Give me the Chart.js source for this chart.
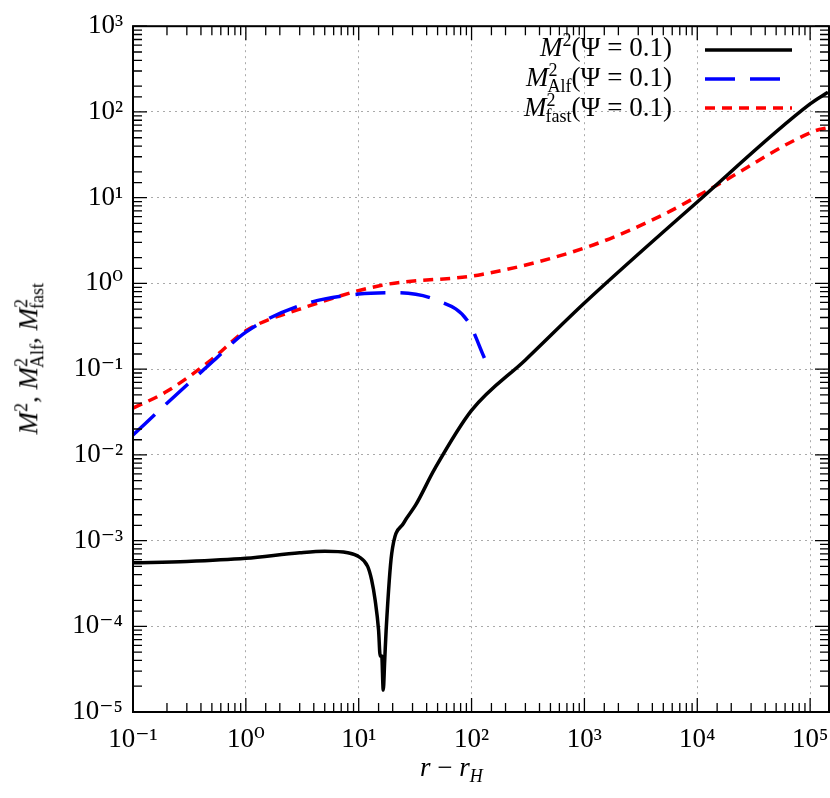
<!DOCTYPE html>
<html><head><meta charset="utf-8">
<script src="https://cdn.jsdelivr.net/npm/chart.js@4"></script>
<style>
body{margin:0;background:#fff;}
#wrap{position:relative;width:830px;height:798px;}
.t{position:absolute;font-family:"Liberation Serif","DejaVu Serif",serif;font-size:27px;color:#000;white-space:nowrap;}
i{font-style:italic;}
sub,sup{font-size:18px;}
</style></head><body>
<div id="wrap"><canvas id="c" width="830" height="798"></canvas>
<div class="t" style="right:158px;top:30px;"><i>M</i><sup>2</sup>(Ψ = 0.1)</div>
<div class="t" style="right:158px;top:60px;"><i>M</i><sup>2</sup><sub style="margin-left:-10px">Alf</sub>(Ψ = 0.1)</div>
<div class="t" style="right:158px;top:90px;"><i>M</i><sup>2</sup><sub style="margin-left:-10px">fast</sub>(Ψ = 0.1)</div>
<div class="t" style="left:420px;top:752px;"><i>r</i> − <i>r<sub>H</sub></i></div>
<div class="t" style="left:-120px;top:340px;transform:rotate(-90deg);width:300px;text-align:center;"><i>M</i><sup>2</sup>, <i>M</i><sup>2</sup><sub style="margin-left:-10px">Alf</sub>, <i>M</i><sup>2</sup><sub style="margin-left:-10px">fast</sub></div>
</div>
<script>
const m2X=[0.1,0.3,1,3,5,8,10,12,13,14,15,15.5,16,16.5,17,17.5,19.6,25,32,47,100,300,1000,10000,100000,144000];
const m2Y=[5.5e-4,5.7e-4,6.2e-4,7.2e-4,7.5e-4,7.2e-4,6.5e-4,5e-4,3.5e-4,2e-4,9e-5,4.5e-5,4.5e-5,1.8e-5,4e-5,9e-5,7e-4,1.6e-3,2.6e-3,6.8e-3,0.033,0.128,0.59,8.9,124,170];
const alfX=[0.1,0.2,0.5,1,3,10,22,50,93,130];
const alfY=[0.017,0.04,0.12,0.27,0.55,0.75,0.78,0.63,0.36,0.135];
const fastX=[0.1,0.2,0.5,1,3,16,123,1100,5200,14500,110000,147000];
const fastY=[0.035,0.055,0.13,0.28,0.5,0.95,1.27,2.7,6.5,13.7,60,66];
const pts=(xs,ys)=>xs.map((x,i)=>({x,y:ys[i]}));
const sup={'-':'⁻','0':'⁰','1':'¹','2':'²','3':'³','4':'⁴','5':'⁵'};
const isMaj=v=>Math.abs(Math.log10(v)-Math.round(Math.log10(v)))<1e-6;
const lab=v=>isMaj(v)?'10'+String(Math.round(Math.log10(v))).split('').map(c=>sup[c]).join(''):'';
const font={family:'"Liberation Serif","DejaVu Serif",serif',size:27};
const tickPlugin={id:'tk',afterDraw(ch){const c=ch.ctx,a=ch.chartArea;c.save();c.strokeStyle='#000';c.lineWidth=1.3;
 ch.scales.x.ticks.forEach(t=>{const p=ch.scales.x.getPixelForValue(t.value);if(p<a.left-1||p>a.right+1)return;const L=isMaj(t.value)?14:9;c.beginPath();c.moveTo(p,a.bottom);c.lineTo(p,a.bottom-L);c.moveTo(p,a.top);c.lineTo(p,a.top+L);c.stroke();});
 ch.scales.y.ticks.forEach(t=>{const p=ch.scales.y.getPixelForValue(t.value);const L=isMaj(t.value)?14:9;c.beginPath();c.moveTo(a.left,p);c.lineTo(a.left+L,p);c.moveTo(a.right,p);c.lineTo(a.right-L,p);c.stroke();});
 c.lineWidth=2;c.strokeRect(a.left,a.top,a.right-a.left,a.bottom-a.top);
 const ls=[[[],'#000'],[[30,15],'#0000ff'],[[10,7],'#ff0000']];
 ls.forEach((s,i)=>{c.setLineDash(s[0]);c.strokeStyle=s[1];c.lineWidth=3.5;c.beginPath();c.moveTo(705,50+i*29);c.lineTo(792,50+i*29);c.stroke();});
 c.restore();}};
new Chart(document.getElementById('c'),{type:'line',
data:{datasets:[
{data:pts(m2X,m2Y),borderColor:'#000',borderWidth:3.5,pointRadius:0,cubicInterpolationMode:'monotone'},
{data:pts(alfX,alfY),borderColor:'#0000ff',borderWidth:3.5,borderDash:[30,15],pointRadius:0,cubicInterpolationMode:'monotone'},
{data:pts(fastX,fastY),borderColor:'#ff0000',borderWidth:3.5,borderDash:[10,7],pointRadius:0,cubicInterpolationMode:'monotone'}]},
options:{responsive:false,animation:false,clip:false,
layout:{padding:{top:21,right:1,left:0,bottom:0}},
plugins:{legend:{display:false},tooltip:{enabled:false}},
scales:{
x:{type:'logarithmic',min:0.1,max:147000,border:{display:false,dash:[2,4]},
 grid:{color:c=>isMaj(c.tick.value)?'#aaa':'rgba(0,0,0,0)',drawTicks:false,lineWidth:1},
 ticks:{autoSkip:false,maxRotation:0,callback:v=>lab(v),font,color:'#000',padding:12},
 afterFit:s=>{s.height=86;s.paddingRight=0;s.paddingLeft=0;}},
y:{type:'logarithmic',min:1e-5,max:1e3,border:{display:false,dash:[2,4]},
 grid:{color:c=>isMaj(c.tick.value)?'#aaa':'rgba(0,0,0,0)',drawTicks:false,lineWidth:1},
 ticks:{autoSkip:false,callback:v=>lab(v),font,color:'#000',padding:10},
 afterFit:s=>{s.width=133;}}}},
plugins:[tickPlugin]});
</script></body></html>
